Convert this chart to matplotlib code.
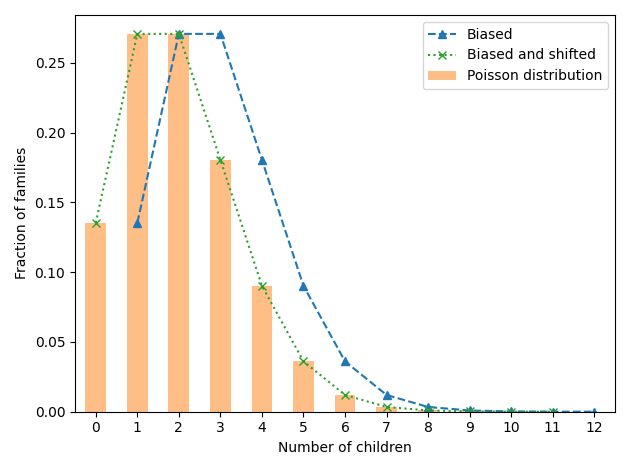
import matplotlib
matplotlib.use("Agg")
import matplotlib.pyplot as plt
import numpy as np

children = np.arange(13)
poisson = [0.1353, 0.2707, 0.2707, 0.1804, 0.0902, 0.0361, 0.0120, 0.0034,
           0.0009, 0.0002, 0.00004, 0.00001, 0.0]
biased_x = np.arange(1, 13)
biased = [0.1353, 0.2707, 0.2707, 0.1804, 0.0902, 0.0361, 0.0120, 0.0034,
          0.0009, 0.0002, 0.00004, 0.00001]
shifted_x = np.arange(0, 12)
shifted = biased

fig, ax = plt.subplots(figsize=(6.3, 4.7), dpi=100)
ax.bar(children, poisson, width=0.5, color="C1", alpha=0.5, label="Poisson distribution")
ax.plot(biased_x, biased, "^--", color="C0", label="Biased")
ax.plot(shifted_x, shifted, "x:", color="C2", label="Biased and shifted")
ax.set_xlim(-0.5, 12.5)
ax.set_xticks(children)
ax.set_xlabel("Number of children")
ax.set_ylabel("Fraction of families")
ax.legend()
fig.tight_layout()
fig.savefig("out.png")
